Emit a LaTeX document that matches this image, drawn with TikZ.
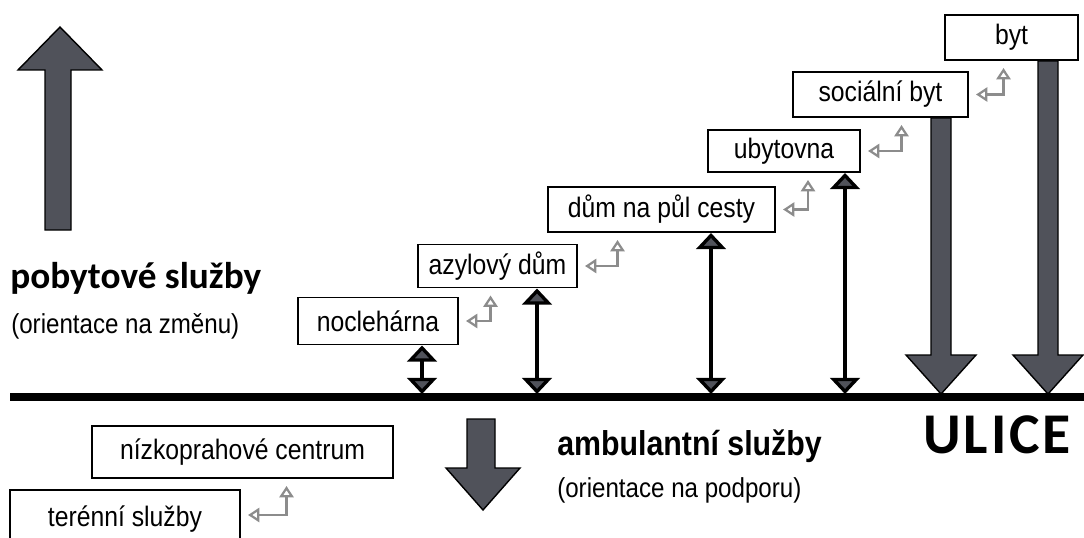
\documentclass[tikz,border=0pt]{standalone}
\usepackage{fontspec}
\setmainfont{Liberation Sans}
\newfontfamily\boxfont[FakeStretch=0.88]{Liberation Sans}
\newfontfamily\labelfont{Carlito}
\usetikzlibrary{arrows.meta,calc}

\definecolor{arrowgray}{HTML}{50525A}
\definecolor{backgray}{HTML}{8C8C8C}

\begin{document}
\begin{tikzpicture}[x=0.025cm,y=-0.025cm]

\tikzset{
  stepbox/.style={draw, line width=1.4pt, inner sep=0pt, font=\boxfont\fontsize{20}{23}\selectfont},
  twoway/.style={{Triangle[width=21pt,length=11.5pt,fill=arrowgray]}-{Triangle[width=21pt,length=11.5pt,fill=arrowgray]}, line width=2.4pt, black},
  goback/.style={{Triangle[open,width=10pt,length=8pt]}-{Triangle[open,width=10pt,length=8pt]}, line width=1.6pt, backgray, shorten <=5pt, shorten >=5pt},
  blockarrow/.style={fill=arrowgray, draw=black, line width=1pt, line join=miter},
  heading/.style={anchor=base west, inner sep=0pt, font=\labelfont\bfseries\fontsize{26.5}{30}\selectfont},
  subheading/.style={anchor=base west, inner sep=0pt, font=\boxfont\fontsize{19.5}{22}\selectfont}
}

\useasboundingbox (0,0) rectangle (1084,538);

% steps up
\node [stepbox, minimum width=160*0.025cm, minimum height=47*0.025cm] (nocl) at (378,321) {noclehárna};
\node [stepbox, minimum width=159*0.025cm, minimum height=43*0.025cm] (azyl) at (497.5,266) {azylový dům};
\node [stepbox, minimum width=227*0.025cm, minimum height=45*0.025cm] (dum) at (661.5,209.5) {dům na půl cesty};
\node [stepbox, minimum width=152*0.025cm, minimum height=42*0.025cm] (ubyt) at (784,151) {ubytovna};
\node [stepbox, minimum width=175*0.025cm, minimum height=45*0.025cm] (soc) at (880.5,94.5) {sociální byt};
\node [stepbox, minimum width=133*0.025cm, minimum height=45*0.025cm] (byt) at (1011.5,37.5) {byt};

% below the street
\node [stepbox, minimum width=301*0.025cm, minimum height=52*0.025cm] (nizko) at (242.5,452) {nízkoprahové centrum};
\node [stepbox, minimum width=230*0.025cm, minimum height=58*0.025cm] (teren) at (125,519) {terénní služby};

% texts
\node [heading] (poby) at (10,288) {pobytové služby};
\node [subheading] (zmena) at (11,333) {(orientace na změnu)};
\node [anchor=base west, inner sep=0pt, font=\boxfont\bfseries\fontsize{24.5}{28}\selectfont] (ambu) at (557,455) {ambulantní služby};
\node [subheading] (podpora) at (557,497) {(orientace na podporu)};
\node [anchor=base west, inner sep=0pt, font=\labelfont\bfseries\fontsize{41}{46}\selectfont\addfontfeature{LetterSpace=5}] (ulice) at (923,453) {ULICE};

% the street
\coordinate (streetL) at (10,397);
\coordinate (streetR) at (1084,397);
\draw [line width=5pt] (streetL) -- (streetR);

\coordinate (s1) at (422,394);
\coordinate (s2) at (537,394);
\coordinate (s3) at (711,394);
\coordinate (s4) at (845,394);
\coordinate (s5) at (941,394);
\coordinate (s6) at (1048,394);

% ways up and down
\draw [twoway] (nocl.south -| s1) -- (s1);
\draw [twoway] (azyl.south -| s2) -- (s2);
\draw [twoway] (dum.south -| s3) -- (s3);
\draw [twoway] (ubyt.south -| s4) -- (s4);

\filldraw [blockarrow] ($(soc.south -| s5)+(-10,0)$) -- ($(s5)+(-10,-39)$) -- ($(s5)+(-35,-39)$) -- (s5) -- ($(s5)+(35,-39)$) -- ($(s5)+(10,-39)$) -- ($(soc.south -| s5)+(10,0)$) -- cycle;
\filldraw [blockarrow] ($(byt.south -| s6)+(-10,0)$) -- ($(s6)+(-10,-39)$) -- ($(s6)+(-35,-39)$) -- (s6) -- ($(s6)+(35,-39)$) -- ($(s6)+(10,-39)$) -- ($(byt.south -| s6)+(10,0)$) -- cycle;

% ways back
\draw [goback] (nocl.east) -| ($(azyl.south)+(-7,0)$);
\draw [goback] (azyl.east) -| ($(dum.south)+(-44,0)$);
\draw [goback] (dum.east) -| ($(ubyt.south)+(24,0)$);
\draw [goback] (ubyt.east) -| ($(soc.south)+(21,0)$);
\draw [goback] (soc.east) -| ($(byt.south)+(-8,0)$);
\draw [goback] ($(teren.east)+(0,-4)$) -| ($(nizko.south)+(44,0)$);

% big arrows
\filldraw [blockarrow] (45,230) -- (45,70) -- (18,70) -- (60,27) -- (102,70) -- (71,70) -- (71,230) -- cycle;
\filldraw [blockarrow] (467,419) -- (467,468) -- (446,468) -- (483,510) -- (520,468) -- (495,468) -- (495,419) -- cycle;

\end{tikzpicture}
\end{document}
